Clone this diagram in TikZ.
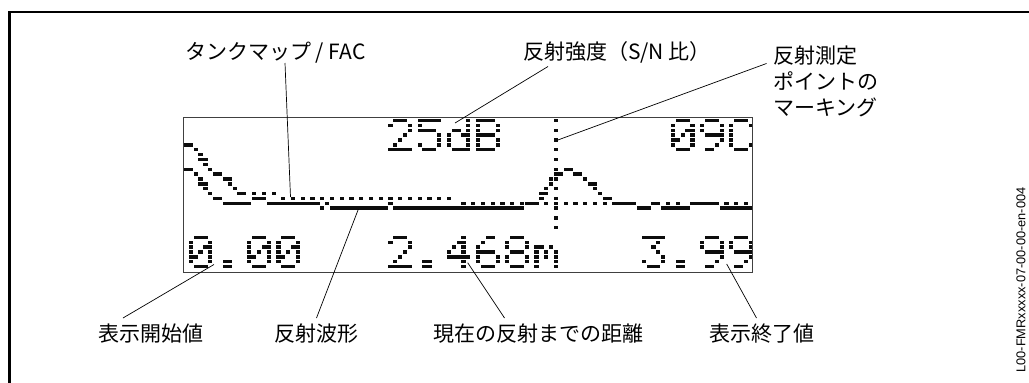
\documentclass[tikz,border=0pt]{standalone}
\usepackage{fontspec}
\setmainfont{Noto Sans CJK JP}
\newfontfamily\codefont{Liberation Sans}
% one run of lit LCD pixels: first column, last column, row
\newcommand\lcdrun[3]{\fill[lcdpx] ({183.5+(#1)*4.87+0.35},{120.5+(#3)*4.87-1.7}) rectangle ({183.5+(#2+1)*4.87-0.35},{120.5+(#3)*4.87+1.7});}
% a 5x7 glyph: column offset, row offset, list of runs a/b/row
\newcommand\lcdglyph[3]{\foreach \ga/\gb/\gr in #3 {\lcdrun{\ga+#1}{\gb+#1}{\gr+#2}}}
\newcommand\glZero{1/3/0,0/0/1,4/4/1,0/0/2,3/4/2,0/0/3,2/2/3,4/4/3,0/1/4,4/4/4,0/0/5,4/4/5,1/3/6}
\newcommand\glTwo{1/3/0,0/0/1,4/4/1,4/4/2,3/3/3,2/2/4,1/1/5,0/4/6}
\newcommand\glThree{0/4/0,3/3/1,2/2/2,3/3/3,4/4/4,0/0/5,4/4/5,1/3/6}
\newcommand\glFour{3/3/0,2/3/1,1/1/2,3/3/2,0/0/3,3/3/3,0/4/4,3/3/5,3/3/6}
\newcommand\glFive{0/4/0,0/0/1,0/3/2,4/4/3,4/4/4,0/0/5,4/4/5,1/3/6}
\newcommand\glSix{2/3/0,1/1/1,0/0/2,0/3/3,0/0/4,4/4/4,0/0/5,4/4/5,1/3/6}
\newcommand\glEight{1/3/0,0/0/1,4/4/1,0/0/2,4/4/2,1/3/3,0/0/4,4/4/4,0/0/5,4/4/5,1/3/6}
\newcommand\glNine{1/3/0,0/0/1,4/4/1,0/0/2,4/4/2,1/4/3,4/4/4,3/3/5,1/2/6}
\newcommand\gld{4/4/0,4/4/1,1/2/2,4/4/2,0/0/3,3/4/3,0/0/4,4/4/4,0/0/5,4/4/5,1/4/6}
\newcommand\glB{0/3/0,0/0/1,4/4/1,0/0/2,4/4/2,0/3/3,0/0/4,4/4/4,0/0/5,4/4/5,0/3/6}
\newcommand\glC{1/3/0,0/0/1,4/4/1,0/0/2,0/0/3,0/0/4,0/0/5,4/4/5,1/3/6}
\newcommand\glm{0/1/2,3/3/2,0/0/3,2/2/3,4/4/3,0/0/4,2/2/4,4/4/4,0/0/5,4/4/5,0/0/6,4/4/6}
\newcommand\glDot{1/2/5,1/2/6}
\begin{document}
\begin{tikzpicture}[x=1pt,y=-1pt,
  lcdpx/.style={fill=black!95},
  lead/.style={line width=0.7pt, black},
  lbl/.style={inner sep=0pt, font=\fontsize{21}{25.6}\selectfont},
  frameline/.style={line width=2.2pt, black},
  lcdbox/.style={draw=black!75, line width=1.4pt, inner sep=0pt, minimum width=569pt, minimum height=155pt, anchor=north west}]
\useasboundingbox (0,0) rectangle (1029,383);
\fill[white] (0,0) rectangle (1029,383);
\draw[frameline] (1031,12) -- (9.5,12) -- (9.5,385);

% --- LCD characters ---
\lcdglyph{42}{0}{\glTwo}\lcdglyph{48}{0}{\glFive}\lcdglyph{54}{0}{\gld}\lcdglyph{60}{0}{\glB}
\lcdglyph{100}{0}{\glZero}\lcdglyph{106}{0}{\glNine}\lcdglyph{112}{0}{\glC}
\lcdglyph{1}{24}{\glZero}\lcdglyph{7}{24}{\glDot}\lcdglyph{13}{24}{\glZero}\lcdglyph{19}{24}{\glZero}
\lcdglyph{42}{24}{\glTwo}\lcdglyph{48}{24}{\glDot}\lcdglyph{54}{24}{\glFour}\lcdglyph{60}{24}{\glSix}\lcdglyph{66}{24}{\glEight}\lcdglyph{72}{24}{\glm}
\lcdglyph{94}{24}{\glThree}\lcdglyph{100}{24}{\glDot}\lcdglyph{106}{24}{\glNine}\lcdglyph{112}{24}{\glNine}

% --- tank map (dotted) ---
\foreach \a/\b/\r in {0/1/5,2/2/6,3/3/7,3/4/8,4/4/9,5/5/10,6/7/11,8/9/12,9/9/13,10/10/14,11/12/15,14/14/15,16/16/15,18/18/15} {\lcdrun{\a}{\b}{\r}}
\foreach \c in {20,22,...,54} {\lcdrun{\c}{\c}{16}}
\foreach \c in {57,59,...,69,74,76,...,86,99,101,111,113,115} {\lcdrun{\c}{\c}{17}}

% --- echo curve (solid) ---
\foreach \a/\b/\r in {0/1/10,2/2/11,3/3/12,3/4/13,4/4/14,5/5/15,6/7/16,8/13/17,14/16/16,17/27/17,28/28/18,29/29/17,30/41/18,42/42/17,43/69/18,70/72/17,73/73/16,73/74/15,74/74/14,75/75/13,75/75/12,76/77/11,78/79/10,80/81/11,82/82/12,83/84/13,84/84/14,85/85/15,86/87/16,88/92/17,93/95/18,96/97/17,98/103/18,104/109/17,110/116/18} {\lcdrun{\a}{\b}{\r}}

% --- marker of the evaluated echo ---
\foreach \r in {0,2,...,22} {\lcdrun{76}{76}{\r}}

\node[lcdbox] (lcd) at (183,117) {};

% --- labels ---
\node[lbl, anchor=west] (tank) at (185,52.5) {タンクマップ / FAC};
\node[lbl, anchor=west] (snr) at (523,52.5) {反射強度（S/N 比）};
\node[lbl, anchor=north west, align=left] (mark) at (773,46) {反射測定\\ポイントの\\マーキング};
\node[lbl, anchor=west] (start) at (98,334) {表示開始値};
\node[lbl, anchor=west] (wave) at (274,334) {反射波形};
\node[lbl, anchor=west] (dist) at (433,334) {現在の反射までの距離};
\node[lbl, anchor=west] (stop) at (709,334) {表示終了値};
\node[rotate=90, inner sep=0pt, font=\codefont\fontsize{12.8}{14}\selectfont] (code) at (1021,280) {L00-FMRxxxxx-07-00-00-en-004};

% --- leader lines ---
\coordinate (tankA) at (285,63);     \coordinate (tankB) at (290.5,197);
\coordinate (snrA) at (548,66.5);    \coordinate (snrB) at (455,123);
\coordinate (markA) at (766.5,63.5); \coordinate (markB) at (556.5,140.5);
\coordinate (startA) at (123,318);   \coordinate (startB) at (214,264.5);
\coordinate (waveA) at (316.5,318);  \coordinate (waveB) at (358.3,209.3);
\coordinate (distA) at (504.5,318);  \coordinate (distB) at (467.7,262.7);
\coordinate (stopA) at (756.5,318);  \coordinate (stopB) at (726.7,264);
\foreach \p in {tank,snr,mark,start,wave,dist,stop} {\draw[lead] (\p A) -- (\p B);}
\end{tikzpicture}
\end{document}
